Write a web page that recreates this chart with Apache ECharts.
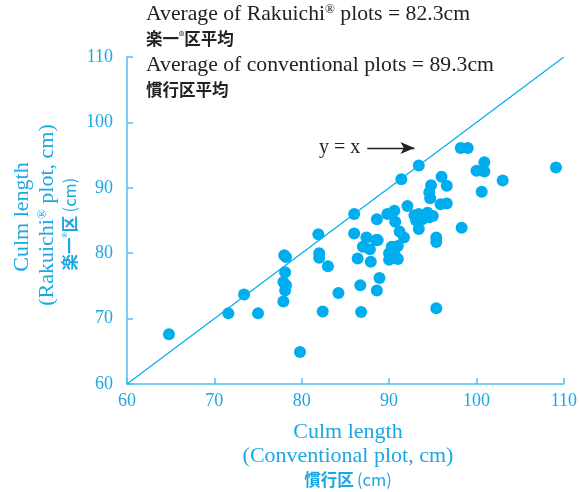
<!DOCTYPE html>
<html><head><meta charset="utf-8">
<script src="https://cdn.jsdelivr.net/npm/echarts@6/dist/echarts.min.js"></script>
<style>html,body{margin:0;padding:0;background:#fff}#c{width:580px;height:492px}</style>
</head><body><div id="c"></div>
<script>
const conventional = [64.8,71.6,73.4,75.0,78.0,78.2,78.1,77.9,78.2,78.1,77.9,79.8,81.9,82.0,82.0,83.0,82.4,84.2,86.0,86.0,86.8,86.7,88.6,88.9,86.4,87.9,87.0,87.4,87.8,88.5,88.7,88.6,89.8,90.6,90.7,91.2,91.7,90.3,91.0,90.0,90.0,91.0,90.6,91.4,93.4,92.1,92.9,93.4,94.4,95.0,93.1,93.8,94.6,93.4,94.8,94.6,94.7,96.0,96.6,95.9,96.6,95.4,95.4,95.4,98.3,98.2,99.0,100.9,100.0,100.9,100.6,103.0,109.1];
const rakuichi =     [67.6,70.8,73.7,70.8,79.7,79.4,77.1,75.6,75.1,74.3,72.6,64.9,82.9,80.0,79.3,78.0,71.1,73.9,86.0,83.0,71.0,75.1,74.3,76.2,79.2,78.7,81.0,82.4,80.6,82.0,82.0,85.2,86.0,86.5,84.8,83.3,82.4,81.0,81.1,80.0,79.0,79.1,80.0,91.3,93.4,87.2,85.8,86.0,86.2,85.7,85.0,85.2,85.5,83.7,90.4,89.3,88.4,91.7,90.3,87.5,87.6,82.4,81.7,71.6,83.9,96.1,96.1,93.9,92.6,92.5,89.4,91.1,93.1];
const identityLine = [[60,60],[110,110]];
const xTicks = [60,70,80,90,100,110];
const yTicks = [60,70,80,90,100,110];
const arrowFrom = [87.5, 96.1];
const arrowTo = [92.9, 96.1];

const points = conventional.map((x,i)=>[x, rakuichi[i]]);
const CY = '#1aa7e4';
const AX = '#4fc1ee';
const DOT = '#00aeef';
const SERIF = '"Liberation Serif", "DejaVu Serif", serif';
const CJK = '"Noto Sans CJK JP", "Noto Sans", sans-serif';
const FS = 21.7;

const chart = echarts.init(document.getElementById('c'), null, {renderer:'canvas'});
chart.setOption({
  animation:false,
  grid:{left:127, right:15, top:57, bottom:108},
  xAxis:{type:'value', min:60, max:110, interval:10,
    axisLine:{lineStyle:{color:AX, width:1.5}},
    axisTick:{inside:true, length:6, lineStyle:{color:AX, width:1.5}},
    splitLine:{show:false},
    axisLabel:{color:CY, fontFamily:SERIF, fontSize:18, margin:8}},
  yAxis:{type:'value', min:60, max:110, interval:10,
    axisLine:{show:true, lineStyle:{color:AX, width:1.5}},
    axisTick:{show:true, inside:true, length:6, lineStyle:{color:AX, width:1.5}},
    splitLine:{show:false},
    axisLabel:{color:CY, fontFamily:SERIF, fontSize:18, margin:14}},
  series:[
    {type:'line', data:identityLine, symbol:'none', lineStyle:{color:DOT, width:1.2}, silent:true, z:1},
    {type:'scatter', data:points, symbolSize:12, itemStyle:{color:DOT, opacity:1}, z:2,
     markLine:{silent:true, symbol:['none','arrow'], symbolSize:[9,14],
       lineStyle:{color:'#222', width:1.3, type:'solid'},
       label:{show:true, position:'start', formatter:'y = x', color:'#222', fontFamily:SERIF, fontSize:20, distance:7},
       data:[[{coord:arrowFrom},{coord:arrowTo}]]}}
  ],
  graphic:[
    {type:'text', left:146, top:3, style:{rich:{a:{fontFamily:SERIF,fontSize:FS,fill:'#222'},s:{fontFamily:SERIF,fontSize:13,fill:'#222',padding:[0,0,9,0]}},
      text:'{a|Average of Rakuichi}{s|®}{a| plots = 82.3cm}'}},
    {type:'text', left:146, top:30, style:{rich:{a:{fontFamily:CJK,fontWeight:'bold',fontSize:16.5,fill:'#222'},s:{fontFamily:CJK,fontSize:11,fill:'#222',padding:[0,0,7,0]}},
      text:'{a|楽一}{s|®}{a|区平均}'}},
    {type:'text', left:146, top:54, style:{text:'Average of conventional plots = 89.3cm', fontFamily:SERIF, fontSize:FS, fill:'#222'}},
    {type:'text', left:146, top:81, style:{text:'慣行区平均', fontFamily:CJK, fontWeight:'bold', fontSize:16.5, fill:'#222'}},
    {type:'text', x:348, y:432, style:{text:'Culm length', fontFamily:SERIF, fontSize:22, fill:CY, align:'center', verticalAlign:'middle'}},
    {type:'text', x:348, y:456, style:{text:'(Conventional plot, cm)', fontFamily:SERIF, fontSize:22, fill:CY, align:'center', verticalAlign:'middle'}},
    {type:'text', x:348, y:480, style:{rich:{a:{fontFamily:CJK,fontWeight:'bold',fontSize:16.5,fill:CY},b:{fontFamily:CJK,fontSize:16.5,fill:CY}}, text:'{a|慣行区} {b|(cm)}', align:'center', verticalAlign:'middle'}},
    {type:'text', x:22, y:217, rotation:Math.PI/2, style:{text:'Culm length', fontFamily:SERIF, fontSize:22, fill:CY, align:'center', verticalAlign:'middle'}},
    {type:'text', x:47, y:215, rotation:Math.PI/2, style:{rich:{a:{fontFamily:SERIF,fontSize:22,fill:CY},s:{fontFamily:SERIF,fontSize:13,fill:CY,padding:[0,0,9,0]}}, text:'{a|(Rakuichi}{s|®}{a| plot, cm)}', align:'center', verticalAlign:'middle'}},
    {type:'text', x:70, y:224, rotation:Math.PI/2, style:{rich:{a:{fontFamily:CJK,fontWeight:'bold',fontSize:16.5,fill:CY},s:{fontFamily:CJK,fontSize:11,fill:CY,padding:[0,0,7,0]},b:{fontFamily:CJK,fontSize:16.5,fill:CY}}, text:'{a|楽一}{s|®}{a|区} {b|(cm)}', align:'center', verticalAlign:'middle'}}
  ]
});
</script></body></html>
